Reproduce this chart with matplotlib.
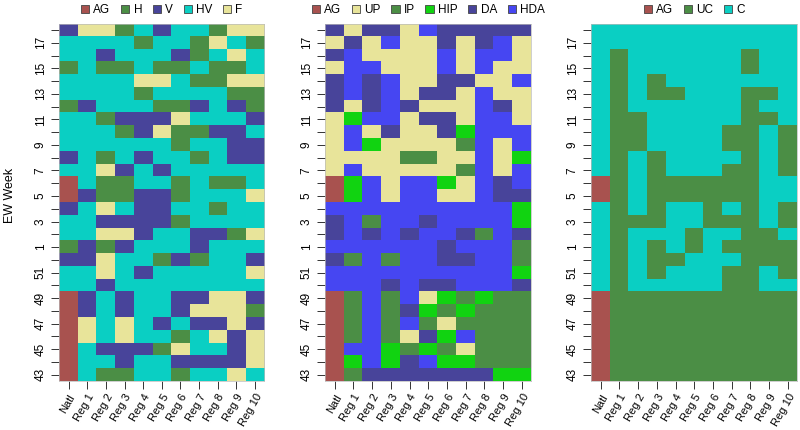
import numpy as np
import matplotlib
matplotlib.use("Agg")
import matplotlib.pyplot as plt
from matplotlib.colors import ListedColormap
from matplotlib.patches import Patch

plt.rcParams["font.family"] = ["Liberation Sans", "DejaVu Sans"]

# -----------------------------
# Data (rows listed from top = EW 18 down to EW 43)
# -----------------------------
weeks = [18, 17, 16, 15, 14, 13, 12, 11, 10, 9, 8, 7, 6, 5, 4, 3, 2, 1,
         52, 51, 50, 49, 48, 47, 46, 45, 44, 43]
regions = ["Natl", "Reg 1", "Reg 2", "Reg 3", "Reg 4", "Reg 5",
           "Reg 6", "Reg 7", "Reg 8", "Reg 9", "Reg 10"]

cats_a = ["AG", "H", "V", "HV", "F"]
cats_b = ["AG", "UP", "IP", "HIP", "DA", "HDA"]
cats_c = ["AG", "UC", "C"]

rows_a = [
    "V F F H HV V HV HV H F F",
    "HV HV HV HV H HV HV H F HV H",
    "HV HV V HV HV HV V H HV F HV",
    "H HV H H HV H H HV H H HV",
    "HV HV HV HV F F HV H H F F",
    "HV HV HV HV H HV HV HV HV H H",
    "H V HV HV HV H H V HV V H",
    "HV HV H V V V F HV HV HV V",
    "HV HV HV H V F H H V V HV",
    "HV HV HV HV HV HV H HV HV V V",
    "V HV H HV V HV HV H HV V V",
    "HV HV F V HV V HV HV HV HV HV",
    "AG HV H H HV HV H HV H H HV",
    "AG V H H V V H HV HV HV F",
    "V HV F HV V V HV HV H HV HV",
    "HV HV V V V V H HV HV HV HV",
    "HV HV F F V HV HV V V H F",
    "H V H V HV HV HV V HV HV HV",
    "V V F HV HV H V H HV HV V",
    "HV HV F HV V HV HV HV HV HV F",
    "HV HV V HV HV HV HV HV HV HV HV",
    "AG V HV V HV HV V V F F V",
    "AG V HV V HV HV V F F F H",
    "AG F HV F HV V HV V V F V",
    "AG F HV F HV HV H HV F V F",
    "AG HV V V V H F HV HV V F",
    "AG HV HV V HV HV V V V V F",
    "AG HV H H HV HV H HV HV F HV",
]

rows_b = [
    "DA UP DA DA UP HDA DA DA DA DA DA",
    "UP DA UP HDA UP UP DA UP DA HDA UP",
    "DA HDA UP UP UP UP HDA UP HDA HDA UP",
    "UP HDA HDA UP UP UP HDA UP HDA UP UP",
    "DA HDA DA HDA UP UP DA DA UP UP HDA",
    "DA HDA DA HDA UP DA DA UP HDA UP UP",
    "DA UP DA HDA DA UP UP UP HDA DA UP",
    "UP HIP HDA HDA UP DA DA UP HDA HDA UP",
    "UP HDA UP DA UP UP DA HIP HDA HDA HDA",
    "UP HDA HIP UP UP UP UP IP HDA UP HDA",
    "UP UP UP UP IP IP UP UP HDA UP HIP",
    "UP HDA UP UP UP UP UP IP HDA UP HDA",
    "AG HIP HDA UP HDA HDA HIP UP HDA DA HDA",
    "AG HIP HDA UP HDA HDA UP UP HDA DA DA",
    "HDA HDA HDA HDA HDA HDA HDA HDA HDA HDA HIP",
    "DA HDA IP HDA HDA DA HDA HDA HDA HDA HIP",
    "DA HDA DA HDA DA HDA HDA DA IP HDA DA",
    "HDA HDA HDA HDA HDA HDA DA HDA HDA HDA IP",
    "DA IP HDA IP HDA HDA DA DA HDA HDA IP",
    "HDA HDA HDA HDA HDA HDA HDA HDA HDA HDA HIP",
    "HDA HDA HDA DA HDA DA DA HDA HDA HDA DA",
    "AG IP HDA IP HDA UP HIP IP HIP IP IP",
    "AG IP HDA IP DA HIP IP HIP IP IP IP",
    "AG IP HDA IP HDA IP UP IP IP IP IP",
    "AG IP HDA IP UP DA HIP HDA IP IP IP",
    "AG HDA HDA HIP IP HIP IP UP IP IP IP",
    "AG HIP HDA HIP DA HDA HIP HIP IP IP IP",
    "AG IP DA DA DA DA DA DA DA HIP HIP",
]

rows_c = [
    "C C C C C C C C C C C",
    "C C C C C C C C C C C",
    "C UC C C C C C C UC C C",
    "C UC C C C C C C UC C C",
    "C UC C UC C C C C C C C",
    "C UC C UC UC C C C UC UC C",
    "C UC C C C C C C UC C C",
    "C UC UC C C C C C UC UC C",
    "C UC UC C C C C UC UC C UC",
    "C UC UC C C C C UC UC C UC",
    "C UC C UC C C C C UC C UC",
    "C UC C UC C C C UC UC C UC",
    "AG UC C UC UC UC UC UC UC C C",
    "AG UC C UC UC UC UC UC UC C C",
    "C UC C UC C C UC C UC C UC",
    "C UC UC UC C C UC UC UC C UC",
    "C UC C C C UC C C UC UC C",
    "C UC C UC C UC C UC UC UC UC",
    "C UC C UC UC C C C UC UC UC",
    "C UC C UC C C C UC UC C UC",
    "C UC C C C C C UC UC C C",
    "AG UC UC UC UC UC UC UC UC UC UC",
    "AG UC UC UC UC UC UC UC UC UC UC",
    "AG UC UC UC UC UC UC UC UC UC UC",
    "AG UC UC UC UC UC UC UC UC UC UC",
    "AG UC UC UC UC UC UC UC UC UC UC",
    "AG UC UC UC UC UC UC UC UC UC UC",
    "AG UC UC UC UC UC UC UC UC UC UC",
]

# -----------------------------
# Colours
# -----------------------------
AG = "#A8524F"
GREEN = "#4B8E45"
NAVY = "#48449A"
CYAN = "#0ACFC3"
PALE = "#E8E49A"
BRIGHT = "#11D311"
BLUE = "#4646F2"

colors_a = [AG, GREEN, NAVY, CYAN, PALE]
colors_b = [AG, PALE, GREEN, BRIGHT, NAVY, BLUE]
colors_c = [AG, GREEN, CYAN]


def to_matrix(rows, cats):
    return np.array([[cats.index(c) for c in r.split()] for r in rows])


def draw_panel(fig, rect, rows, cats, colors):
    ax = fig.add_axes(rect)
    mat = to_matrix(rows, cats)
    ax.imshow(mat, cmap=ListedColormap(colors), vmin=-0.5, vmax=len(cats) - 0.5,
              aspect="auto", interpolation="nearest")

    ax.set_yticks(range(len(weeks)))
    ax.set_yticklabels([str(w) if w % 2 == 1 else "" for w in weeks],
                       rotation=90, va="center", fontsize=8.5)
    ax.set_xticks(range(len(regions)))
    ax.set_xticklabels(regions, rotation=60, ha="right", va="top",
                       rotation_mode="anchor", fontsize=8)
    ax.tick_params(axis="both", length=6, width=0.7, color="#333333")
    ax.tick_params(axis="x", pad=2)
    ax.tick_params(axis="y", pad=3)
    for s in ax.spines.values():
        s.set_color("#BBBBBB")
        s.set_linewidth(0.5)

    handles = [Patch(facecolor=c, edgecolor="#444444", linewidth=0.6, label=k)
               for k, c in zip(cats, colors)]
    ax.legend(handles=handles, loc="lower center", bbox_to_anchor=(0.5, 1.02),
              ncol=len(cats), frameon=False, fontsize=8.5, handlelength=0.7,
              handleheight=0.7, handletextpad=0.35, columnspacing=0.9,
              borderaxespad=0.0, borderpad=0.0)
    return ax


fig = plt.figure(figsize=(8, 4.3), dpi=100)

bottom, height = 0.1135, 0.8316
draw_panel(fig, [0.0741, bottom, 0.2563, height], rows_a, cats_a, colors_a)
draw_panel(fig, [0.4066, bottom, 0.2575, height], rows_b, cats_b, colors_b)
draw_panel(fig, [0.7391, bottom, 0.2575, height], rows_c, cats_c, colors_c)

fig.text(10 / 800, 1 - 195 / 430, "EW Week", rotation=90, ha="center",
         va="center", fontsize=9)

fig.savefig("out.png", dpi=100)
